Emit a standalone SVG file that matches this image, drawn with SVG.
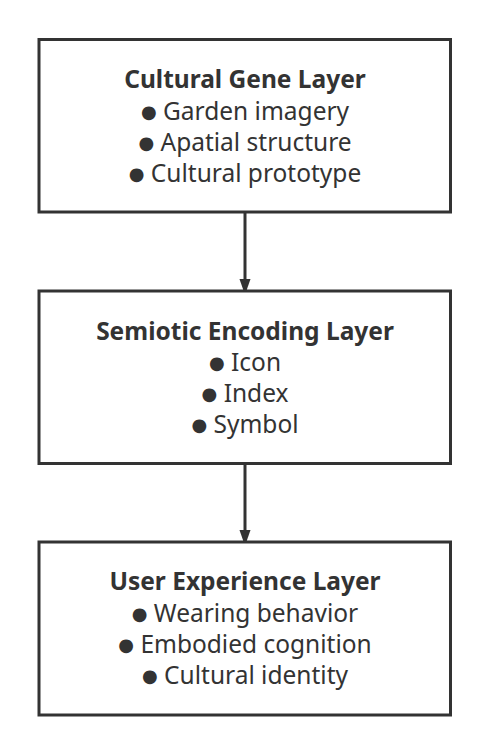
<svg xmlns="http://www.w3.org/2000/svg" width="490" height="755" viewBox="0 0 490 755">
<style>
.box{fill:#fff;stroke:#333;stroke-width:3}
.t{font-family:"Noto Sans","Open Sans","DejaVu Sans",sans-serif;font-size:24.5px;fill:#333;text-anchor:middle}
.b{font-weight:bold}
.d{font-family:"DejaVu Sans",sans-serif;font-size:18px}
.c{stroke:#333;stroke-width:3;fill:none}
</style>
<defs>
<marker id="ah" markerWidth="16" markerHeight="23" refX="16" refY="8" orient="auto" markerUnits="userSpaceOnUse" viewBox="0 0 23 16">
<path d="M0,0 L23,8 L0,16 Z" fill="#333"/>
</marker>
</defs>
<rect width="490" height="755" fill="#fff"/>
<g id="connectors">
<line class="c" x1="245" y1="212" x2="245" y2="290" marker-end="url(#ah)"/>
<line class="c" x1="245" y1="463" x2="245" y2="541" marker-end="url(#ah)"/>
</g>
<g id="cultural-gene">
<rect class="box" x="39" y="39.5" width="411.5" height="172.5"/>
<text class="t b" x="245" y="88">Cultural Gene Layer</text>
<text class="t" x="245" y="120"><tspan class="d" dy="-2">●</tspan><tspan dy="2"> Garden imagery</tspan></text>
<text class="t" x="245" y="151"><tspan class="d" dy="-2">●</tspan><tspan dy="2"> Apatial structure</tspan></text>
<text class="t" x="245" y="182"><tspan class="d" dy="-2">●</tspan><tspan dy="2"> Cultural prototype</tspan></text>
</g>
<g id="semiotic-encoding">
<rect class="box" x="39" y="291" width="411.5" height="172.5"/>
<text class="t b" x="245" y="339.5">Semiotic Encoding Layer</text>
<text class="t" x="245" y="371"><tspan class="d" dy="-2">●</tspan><tspan dy="2"> Icon</tspan></text>
<text class="t" x="245" y="402"><tspan class="d" dy="-2">●</tspan><tspan dy="2"> Index</tspan></text>
<text class="t" x="245" y="433"><tspan class="d" dy="-2">●</tspan><tspan dy="2"> Symbol</tspan></text>
</g>
<g id="user-experience">
<rect class="box" x="39" y="542" width="411.5" height="173"/>
<text class="t b" x="245" y="590">User Experience Layer</text>
<text class="t" x="245" y="622"><tspan class="d" dy="-2">●</tspan><tspan dy="2"> Wearing behavior</tspan></text>
<text class="t" x="245" y="653"><tspan class="d" dy="-2">●</tspan><tspan dy="2"> Embodied cognition</tspan></text>
<text class="t" x="245" y="684"><tspan class="d" dy="-2">●</tspan><tspan dy="2"> Cultural identity</tspan></text>
</g>
</svg>
